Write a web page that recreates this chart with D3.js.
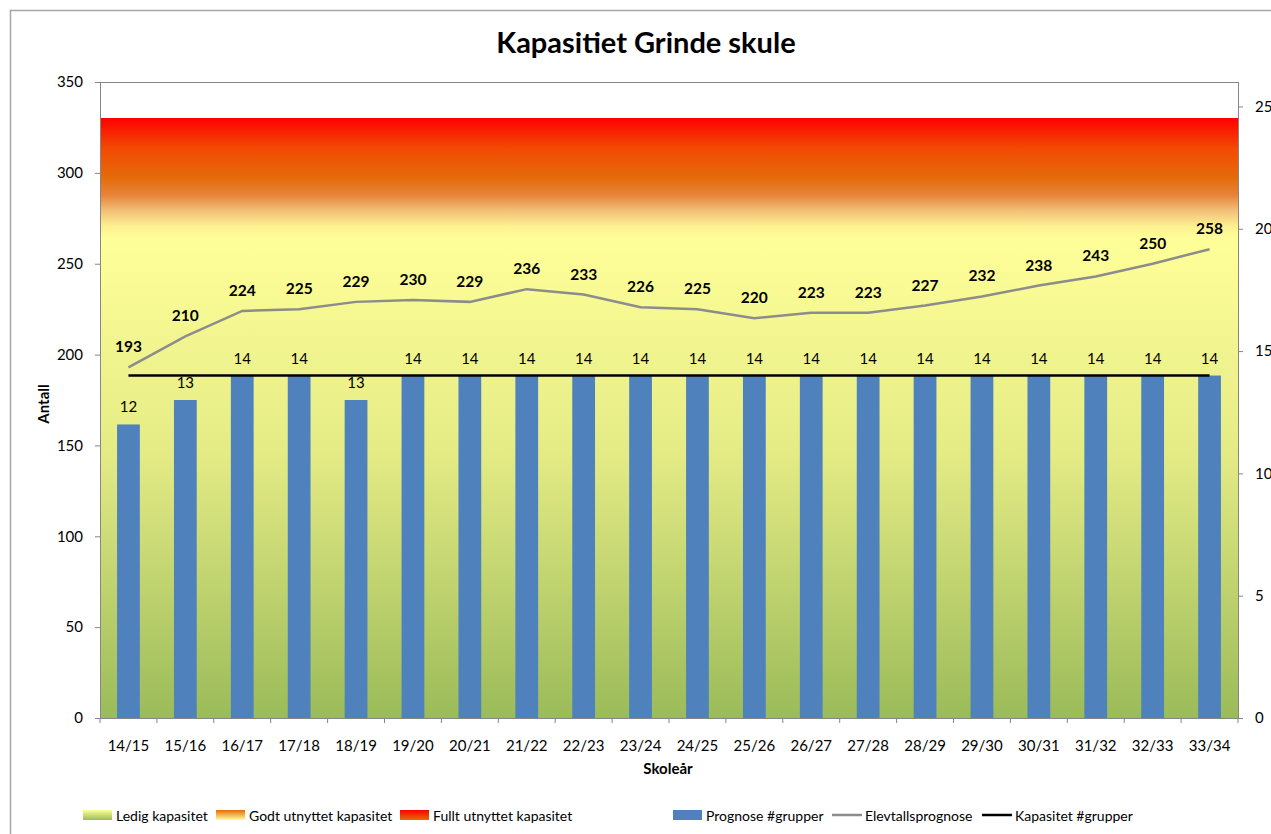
<!DOCTYPE html>
<meta charset="utf-8">
<script src="https://d3js.org/d3.v7.min.js"></script>
<style>
  body { margin: 0; background: #fff; }
  text { font-family: Lato, "Open Sans", sans-serif; fill: #000; }
</style>
<div id="chart"></div>
<script>
var categories = ["14/15", "15/16", "16/17", "17/18", "18/19", "19/20", "20/21", "21/22", "22/23", "23/24",
                  "24/25", "25/26", "26/27", "27/28", "28/29", "29/30", "30/31", "31/32", "32/33", "33/34"];
var elevtall = [193, 210, 224, 225, 229, 230, 229, 236, 233, 226, 225, 220, 223, 223, 227, 232, 238, 243, 250, 258];
var grupper = [12, 13, 14, 14, 13, 14, 14, 14, 14, 14, 14, 14, 14, 14, 14, 14, 14, 14, 14, 14];
var kapasitetGrupper = [14, 14, 14, 14, 14, 14, 14, 14, 14, 14, 14, 14, 14, 14, 14, 14, 14, 14, 14, 14];
// stacked capacity bands (pupils)
var ledig = [264, 264, 264, 264, 264, 264, 264, 264, 264, 264, 264, 264, 264, 264, 264, 264, 264, 264, 264, 264];
var godt = [33, 33, 33, 33, 33, 33, 33, 33, 33, 33, 33, 33, 33, 33, 33, 33, 33, 33, 33, 33];
var fullt = [33, 33, 33, 33, 33, 33, 33, 33, 33, 33, 33, 33, 33, 33, 33, 33, 33, 33, 33, 33];
var leftTicks = [0, 50, 100, 150, 200, 250, 300, 350];
var rightTicks = [0, 5, 10, 15, 20, 25];

var W = 1271, H = 834;
var plot = { left: 100, right: 1238, top: 82, bottom: 718 };
var axisColor = "#868686";

var svg = d3.select("#chart").append("svg")
    .attr("width", W)
    .attr("height", H);

var defs = svg.append("defs");

var x = d3.scaleBand()
    .domain(categories)
    .range([plot.left, plot.right])
    .padding(0);
var y = d3.scaleLinear().domain([0, 350]).range([plot.bottom, plot.top]);
var y2 = d3.scaleLinear().domain([0, 26]).range([plot.bottom, plot.top]);

// outer chart border
svg.append("rect")
    .attr("x", 10.5).attr("y", 10.5)
    .attr("width", W + 20).attr("height", H + 20)
    .attr("fill", "none")
    .attr("stroke", "#a6a6a6")
    .attr("stroke-width", 1.5);

// gradients
function makeGrad(id, y1, y2v, stops) {
    var g = defs.append("linearGradient")
        .attr("id", id)
        .attr("gradientUnits", "userSpaceOnUse")
        .attr("x1", 0).attr("x2", 0)
        .attr("y1", y1).attr("y2", y2v);
    stops.forEach(function(s) {
        g.append("stop").attr("offset", s[0]).attr("stop-color", s[1]);
    });
}

var stack = categories.map(function(c, i) {
    return { cat: c, l0: 0, l1: ledig[i], g1: ledig[i] + godt[i], f1: ledig[i] + godt[i] + fullt[i] };
});

makeGrad("gLedig", y(0), y(ledig[0]), [[0, "#9bbb59"], [0.55, "#e4eb85"], [1, "#ffff99"]]);
makeGrad("gGodt", y(ledig[0]), y(ledig[0] + godt[0]),
    [[0, "#ffff99"], [0.2, "#fdf090"], [0.45, "#f3c27a"], [0.72, "#e6843a"], [1, "#e46c0a"]]);
makeGrad("gFullt", y(ledig[0] + godt[0]), y(ledig[0] + godt[0] + fullt[0]),
    [[0, "#e46c0a"], [0.5, "#f24a03"], [1, "#ff0000"]]);

// legend gradients (bounding box)
function makeSwatchGrad(id, stops) {
    var g = defs.append("linearGradient")
        .attr("id", id)
        .attr("x1", 0).attr("x2", 0).attr("y1", 1).attr("y2", 0);
    stops.forEach(function(s) {
        g.append("stop").attr("offset", s[0]).attr("stop-color", s[1]);
    });
}
makeSwatchGrad("sLedig", [[0, "#9bbb59"], [1, "#ffff99"]]);
makeSwatchGrad("sGodt", [[0, "#ffff99"], [1, "#e46c0a"]]);
makeSwatchGrad("sFullt", [[0, "#e46c0a"], [1, "#ff0000"]]);

// band areas, stepped across the full plot width
var last = stack[stack.length - 1];
var stepData = stack.concat([{ cat: null, l0: last.l0, l1: last.l1, g1: last.g1, f1: last.f1 }]);
function xs(d) { return d.cat === null ? plot.right : x(d.cat); }

var bands = [
    { lo: "l0", hi: "l1", fill: "url(#gLedig)" },
    { lo: "l1", hi: "g1", fill: "url(#gGodt)" },
    { lo: "g1", hi: "f1", fill: "url(#gFullt)" }
];
bands.forEach(function(b) {
    svg.append("path")
        .datum(stepData)
        .attr("fill", b.fill)
        .attr("shape-rendering", "crispEdges")
        .attr("d", d3.area()
            .curve(d3.curveStepAfter)
            .x(xs)
            .y0(function(d) { return Math.round(y(d[b.lo])); })
            .y1(function(d) { return Math.round(y(d[b.hi])); }));
});

// plot area border (top and right)
svg.append("path")
    .attr("d", "M" + plot.left + "," + (plot.top + 0.5) + "H" + (plot.right + 0.5) + "V" + plot.bottom)
    .attr("fill", "none")
    .attr("stroke", axisColor)
    .attr("stroke-width", 1);

// bars (secondary axis)
var barW = x.bandwidth() * 0.4;
svg.append("g").selectAll("rect")
    .data(grupper)
    .enter().append("rect")
    .attr("x", function(d, i) { return x(categories[i]) + (x.bandwidth() - barW) / 2; })
    .attr("y", function(d) { return y2(d); })
    .attr("width", barW)
    .attr("height", function(d) { return y2(0) - y2(d); })
    .attr("fill", "#4f81bd");

svg.append("g").selectAll("text")
    .data(grupper)
    .enter().append("text")
    .attr("x", function(d, i) { return x(categories[i]) + x.bandwidth() / 2; })
    .attr("y", function(d) { return y2(d) - 12; })
    .attr("text-anchor", "middle")
    .attr("font-size", 15)
    .text(function(d) { return d; });

// elevtall line
var cx = function(i) { return x(categories[i]) + x.bandwidth() / 2; };
svg.append("path")
    .datum(elevtall)
    .attr("fill", "none")
    .attr("stroke", "#8c8c8c")
    .attr("stroke-width", 2.5)
    .attr("d", d3.line().x(function(d, i) { return cx(i); }).y(function(d) { return y(d); }));

svg.append("g").selectAll("text")
    .data(elevtall)
    .enter().append("text")
    .attr("x", function(d, i) { return cx(i); })
    .attr("y", function(d) { return y(d) - 15; })
    .attr("text-anchor", "middle")
    .attr("font-size", 15.5)
    .attr("font-weight", "bold")
    .text(function(d) { return d; });

// capacity line (secondary axis)
svg.append("path")
    .datum(kapasitetGrupper)
    .attr("fill", "none")
    .attr("stroke", "#000")
    .attr("stroke-width", 2.5)
    .attr("d", d3.line().x(function(d, i) { return cx(i); }).y(function(d) { return y2(d); }));

// axes
function styleAxis(g) {
    g.select(".domain").attr("stroke", axisColor);
    g.selectAll(".tick line").attr("stroke", axisColor);
    g.selectAll(".tick text").attr("font-family", "Lato, sans-serif").attr("font-size", 15).attr("fill", "#000");
}

svg.append("g")
    .attr("transform", "translate(" + plot.left + ",0)")
    .call(d3.axisLeft(y).tickValues(leftTicks).tickSize(5).tickPadding(12).tickSizeOuter(0))
    .call(styleAxis);

svg.append("g")
    .attr("transform", "translate(" + plot.right + ",0)")
    .call(d3.axisRight(y2).tickValues(rightTicks).tickSize(5).tickPadding(12).tickSizeOuter(0))
    .call(styleAxis);

var xAxis = svg.append("g")
    .attr("transform", "translate(0," + plot.bottom + ")")
    .call(d3.axisBottom(x).tickSize(0).tickPadding(22).tickSizeOuter(0))
    .call(styleAxis);
// boundary tick marks between categories
xAxis.selectAll(".bound")
    .data(categories.concat([null]))
    .enter().append("line")
    .attr("x1", function(d) { return d === null ? plot.right : x(d); })
    .attr("x2", function(d) { return d === null ? plot.right : x(d); })
    .attr("y1", 0).attr("y2", 5)
    .attr("stroke", axisColor);

// title and axis titles
svg.append("text")
    .attr("x", 646).attr("y", 53)
    .attr("text-anchor", "middle")
    .attr("font-size", 29)
    .attr("font-weight", "bold")
    .text("Kapasitiet Grinde skule");

svg.append("text")
    .attr("transform", "translate(49,404) rotate(-90)")
    .attr("text-anchor", "middle")
    .attr("font-size", 15)
    .attr("font-weight", "bold")
    .text("Antall");

svg.append("text")
    .attr("x", 668).attr("y", 774)
    .attr("text-anchor", "middle")
    .attr("font-size", 15)
    .attr("font-weight", "bold")
    .text("Skoleår");

// legend
var legendItems = [
    { name: "Ledig kapasitet", type: "rect", fill: "url(#sLedig)", x: 83 },
    { name: "Godt utnyttet kapasitet", type: "rect", fill: "url(#sGodt)", x: 216 },
    { name: "Fullt utnyttet kapasitet", type: "rect", fill: "url(#sFullt)", x: 400 },
    { name: "Prognose #grupper", type: "rect", fill: "#4f81bd", x: 673 },
    { name: "Elevtallsprognose", type: "line", stroke: "#8c8c8c", x: 832 },
    { name: "Kapasitet #grupper", type: "line", stroke: "#000", x: 982 }
];
var legend = svg.append("g").selectAll("g")
    .data(legendItems)
    .enter().append("g")
    .attr("transform", function(d) { return "translate(" + d.x + ",816)"; });
legend.filter(function(d) { return d.type === "rect"; })
    .append("rect")
    .attr("x", 0).attr("y", -6)
    .attr("width", 29).attr("height", 10)
    .attr("fill", function(d) { return d.fill; });
legend.filter(function(d) { return d.type === "line"; })
    .append("line")
    .attr("x1", 0).attr("x2", 30)
    .attr("y1", -1).attr("y2", -1)
    .attr("stroke", function(d) { return d.stroke; })
    .attr("stroke-width", 2.5);
legend.append("text")
    .attr("x", 33).attr("y", 5)
    .attr("font-size", 14)
    .text(function(d) { return d.name; });
</script>
